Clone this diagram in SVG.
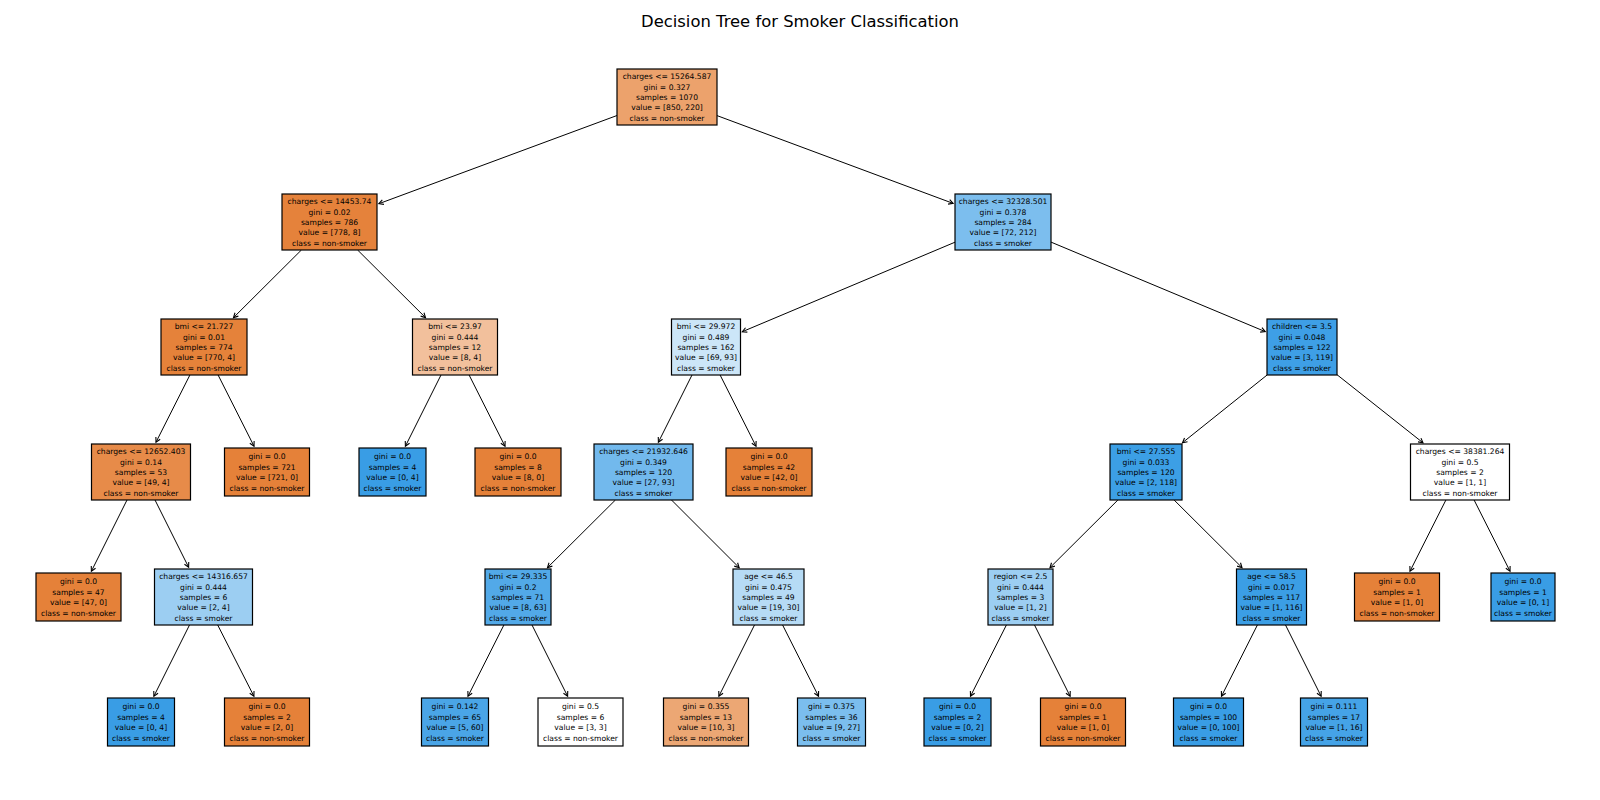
<svg xmlns="http://www.w3.org/2000/svg" width="1600" height="800" viewBox="0 0 1600 800">
<style>
.box{stroke:#000;stroke-width:1.2}
.t{font-family:"DejaVu Sans",sans-serif;font-size:7.6px;text-anchor:middle;dominant-baseline:central;fill:#000}
.title{font-family:"DejaVu Sans",sans-serif;font-size:16.4px;text-anchor:middle;dominant-baseline:central;fill:#000}
.e{stroke:#000;stroke-width:1;fill:none;marker-end:url(#ah)}
</style>
<defs>
<marker id="ah" markerUnits="userSpaceOnUse" viewBox="-6 -4 8 8" refX="0" refY="0" markerWidth="8" markerHeight="8" orient="auto" overflow="visible">
<path d="M-4.5,-2.4 L0,0 L-4.5,2.4" fill="none" stroke="#000" stroke-width="1.1"/>
</marker>
</defs>
<rect width="1600" height="800" fill="#fff"/>
<text class="title" x="800" y="21.5">Decision Tree for Smoker Classification</text>
<g id="connectors">
<line class="e" x1="617" y1="115.5" x2="378.9" y2="203.7"/>
<line class="e" x1="717" y1="115.6" x2="953.1" y2="203.4"/>
<line class="e" x1="301.4" y1="250" x2="233.5" y2="317.6"/>
<line class="e" x1="357.6" y1="250" x2="425.5" y2="317.6"/>
<line class="e" x1="955" y1="242.2" x2="742.3" y2="331.7"/>
<line class="e" x1="1051" y1="242.1" x2="1265.2" y2="331.6"/>
<line class="e" x1="189.9" y1="375" x2="156" y2="442.2"/>
<line class="e" x1="218.1" y1="375" x2="254" y2="446.2"/>
<line class="e" x1="441" y1="375" x2="405.4" y2="446.2"/>
<line class="e" x1="469.1" y1="375" x2="505" y2="446.2"/>
<line class="e" x1="692" y1="375" x2="658.4" y2="442.2"/>
<line class="e" x1="720.1" y1="375" x2="756" y2="446.2"/>
<line class="e" x1="1267.1" y1="375" x2="1182.5" y2="442.7"/>
<line class="e" x1="1337" y1="374.7" x2="1423" y2="442.8"/>
<line class="e" x1="127" y1="500" x2="91.4" y2="571.2"/>
<line class="e" x1="155" y1="500" x2="188.6" y2="567.2"/>
<line class="e" x1="189.5" y1="625" x2="153.9" y2="696.2"/>
<line class="e" x1="217.7" y1="625" x2="253.9" y2="696.2"/>
<line class="e" x1="615.4" y1="500" x2="547.5" y2="567.6"/>
<line class="e" x1="671.5" y1="500" x2="739.1" y2="567.6"/>
<line class="e" x1="503.9" y1="625" x2="468" y2="696.2"/>
<line class="e" x1="532" y1="625" x2="567.6" y2="696.2"/>
<line class="e" x1="754.5" y1="625" x2="718.9" y2="696.2"/>
<line class="e" x1="782.6" y1="625" x2="818.5" y2="696.2"/>
<line class="e" x1="1117.9" y1="500" x2="1050" y2="567.6"/>
<line class="e" x1="1174.1" y1="500" x2="1242" y2="567.6"/>
<line class="e" x1="1445.9" y1="500" x2="1410" y2="571.2"/>
<line class="e" x1="1474.1" y1="500" x2="1510" y2="571.2"/>
<line class="e" x1="1006.4" y1="625" x2="970.5" y2="696.2"/>
<line class="e" x1="1034.5" y1="625" x2="1070.1" y2="696.2"/>
<line class="e" x1="1257.4" y1="625" x2="1221.5" y2="696.2"/>
<line class="e" x1="1285.5" y1="625" x2="1321.1" y2="696.2"/>
</g>
<g id="n0"><rect class="box" x="617" y="69" width="100" height="56" fill="#eca26c"/><text class="t" x="667" y="76.2"><tspan x="667">charges &lt;= 15264.587</tspan><tspan x="667" dy="10.4">gini = 0.327</tspan><tspan x="667" dy="10.4">samples = 1070</tspan><tspan x="667" dy="10.4">value = [850, 220]</tspan><tspan x="667" dy="10.4">class = non-smoker</tspan></text></g>
<g id="n1"><rect class="box" x="282" y="194" width="95" height="56" fill="#e5823b"/><text class="t" x="329.5" y="201.2"><tspan x="329.5">charges &lt;= 14453.74</tspan><tspan x="329.5" dy="10.4">gini = 0.02</tspan><tspan x="329.5" dy="10.4">samples = 786</tspan><tspan x="329.5" dy="10.4">value = [778, 8]</tspan><tspan x="329.5" dy="10.4">class = non-smoker</tspan></text></g>
<g id="n2"><rect class="box" x="955" y="194" width="96" height="56" fill="#7cbeee"/><text class="t" x="1003" y="201.2"><tspan x="1003">charges &lt;= 32328.501</tspan><tspan x="1003" dy="10.4">gini = 0.378</tspan><tspan x="1003" dy="10.4">samples = 284</tspan><tspan x="1003" dy="10.4">value = [72, 212]</tspan><tspan x="1003" dy="10.4">class = smoker</tspan></text></g>
<g id="n3"><rect class="box" x="161" y="319" width="86" height="56" fill="#e5823a"/><text class="t" x="204" y="326.2"><tspan x="204">bmi &lt;= 21.727</tspan><tspan x="204" dy="10.4">gini = 0.01</tspan><tspan x="204" dy="10.4">samples = 774</tspan><tspan x="204" dy="10.4">value = [770, 4]</tspan><tspan x="204" dy="10.4">class = non-smoker</tspan></text></g>
<g id="n4"><rect class="box" x="412.5" y="319" width="85" height="56" fill="#f2c09c"/><text class="t" x="455" y="326.2"><tspan x="455">bmi &lt;= 23.97</tspan><tspan x="455" dy="10.4">gini = 0.444</tspan><tspan x="455" dy="10.4">samples = 12</tspan><tspan x="455" dy="10.4">value = [8, 4]</tspan><tspan x="455" dy="10.4">class = non-smoker</tspan></text></g>
<g id="n5"><rect class="box" x="671.5" y="319" width="69" height="56" fill="#cce6f8"/><text class="t" x="706" y="326.2"><tspan x="706">bmi &lt;= 29.972</tspan><tspan x="706" dy="10.4">gini = 0.489</tspan><tspan x="706" dy="10.4">samples = 162</tspan><tspan x="706" dy="10.4">value = [69, 93]</tspan><tspan x="706" dy="10.4">class = smoker</tspan></text></g>
<g id="n6"><rect class="box" x="1267" y="319" width="70" height="56" fill="#3e9fe6"/><text class="t" x="1302" y="326.2"><tspan x="1302">children &lt;= 3.5</tspan><tspan x="1302" dy="10.4">gini = 0.048</tspan><tspan x="1302" dy="10.4">samples = 122</tspan><tspan x="1302" dy="10.4">value = [3, 119]</tspan><tspan x="1302" dy="10.4">class = smoker</tspan></text></g>
<g id="n7"><rect class="box" x="91.5" y="444" width="99" height="56" fill="#e78b49"/><text class="t" x="141" y="451.2"><tspan x="141">charges &lt;= 12652.403</tspan><tspan x="141" dy="10.4">gini = 0.14</tspan><tspan x="141" dy="10.4">samples = 53</tspan><tspan x="141" dy="10.4">value = [49, 4]</tspan><tspan x="141" dy="10.4">class = non-smoker</tspan></text></g>
<g id="n8"><rect class="box" x="224.5" y="448" width="85" height="48" fill="#e58139"/><text class="t" x="267" y="456.4"><tspan x="267">gini = 0.0</tspan><tspan x="267" dy="10.4">samples = 721</tspan><tspan x="267" dy="10.4">value = [721, 0]</tspan><tspan x="267" dy="10.4">class = non-smoker</tspan></text></g>
<g id="n9"><rect class="box" x="359" y="448" width="67" height="48" fill="#399de5"/><text class="t" x="392.5" y="456.4"><tspan x="392.5">gini = 0.0</tspan><tspan x="392.5" dy="10.4">samples = 4</tspan><tspan x="392.5" dy="10.4">value = [0, 4]</tspan><tspan x="392.5" dy="10.4">class = smoker</tspan></text></g>
<g id="n10"><rect class="box" x="475" y="448" width="86" height="48" fill="#e58139"/><text class="t" x="518" y="456.4"><tspan x="518">gini = 0.0</tspan><tspan x="518" dy="10.4">samples = 8</tspan><tspan x="518" dy="10.4">value = [8, 0]</tspan><tspan x="518" dy="10.4">class = non-smoker</tspan></text></g>
<g id="n11"><rect class="box" x="594" y="444" width="99" height="56" fill="#72b9ed"/><text class="t" x="643.5" y="451.2"><tspan x="643.5">charges &lt;= 21932.646</tspan><tspan x="643.5" dy="10.4">gini = 0.349</tspan><tspan x="643.5" dy="10.4">samples = 120</tspan><tspan x="643.5" dy="10.4">value = [27, 93]</tspan><tspan x="643.5" dy="10.4">class = smoker</tspan></text></g>
<g id="n12"><rect class="box" x="726" y="448" width="86" height="48" fill="#e58139"/><text class="t" x="769" y="456.4"><tspan x="769">gini = 0.0</tspan><tspan x="769" dy="10.4">samples = 42</tspan><tspan x="769" dy="10.4">value = [42, 0]</tspan><tspan x="769" dy="10.4">class = non-smoker</tspan></text></g>
<g id="n13"><rect class="box" x="1110" y="444" width="72" height="56" fill="#3c9fe5"/><text class="t" x="1146" y="451.2"><tspan x="1146">bmi &lt;= 27.555</tspan><tspan x="1146" dy="10.4">gini = 0.033</tspan><tspan x="1146" dy="10.4">samples = 120</tspan><tspan x="1146" dy="10.4">value = [2, 118]</tspan><tspan x="1146" dy="10.4">class = smoker</tspan></text></g>
<g id="n14"><rect class="box" x="1410.5" y="444" width="99" height="56" fill="#ffffff"/><text class="t" x="1460" y="451.2"><tspan x="1460">charges &lt;= 38381.264</tspan><tspan x="1460" dy="10.4">gini = 0.5</tspan><tspan x="1460" dy="10.4">samples = 2</tspan><tspan x="1460" dy="10.4">value = [1, 1]</tspan><tspan x="1460" dy="10.4">class = non-smoker</tspan></text></g>
<g id="n15"><rect class="box" x="36" y="573" width="85" height="48" fill="#e58139"/><text class="t" x="78.5" y="581.4"><tspan x="78.5">gini = 0.0</tspan><tspan x="78.5" dy="10.4">samples = 47</tspan><tspan x="78.5" dy="10.4">value = [47, 0]</tspan><tspan x="78.5" dy="10.4">class = non-smoker</tspan></text></g>
<g id="n16"><rect class="box" x="154.5" y="569" width="98" height="56" fill="#9ccef2"/><text class="t" x="203.5" y="576.2"><tspan x="203.5">charges &lt;= 14316.657</tspan><tspan x="203.5" dy="10.4">gini = 0.444</tspan><tspan x="203.5" dy="10.4">samples = 6</tspan><tspan x="203.5" dy="10.4">value = [2, 4]</tspan><tspan x="203.5" dy="10.4">class = smoker</tspan></text></g>
<g id="n17"><rect class="box" x="485" y="569" width="66" height="56" fill="#52a9e8"/><text class="t" x="518" y="576.2"><tspan x="518">bmi &lt;= 29.335</tspan><tspan x="518" dy="10.4">gini = 0.2</tspan><tspan x="518" dy="10.4">samples = 71</tspan><tspan x="518" dy="10.4">value = [8, 63]</tspan><tspan x="518" dy="10.4">class = smoker</tspan></text></g>
<g id="n18"><rect class="box" x="733" y="569" width="71" height="56" fill="#b6dbf5"/><text class="t" x="768.5" y="576.2"><tspan x="768.5">age &lt;= 46.5</tspan><tspan x="768.5" dy="10.4">gini = 0.475</tspan><tspan x="768.5" dy="10.4">samples = 49</tspan><tspan x="768.5" dy="10.4">value = [19, 30]</tspan><tspan x="768.5" dy="10.4">class = smoker</tspan></text></g>
<g id="n19"><rect class="box" x="988" y="569" width="65" height="56" fill="#9ccef2"/><text class="t" x="1020.5" y="576.2"><tspan x="1020.5">region &lt;= 2.5</tspan><tspan x="1020.5" dy="10.4">gini = 0.444</tspan><tspan x="1020.5" dy="10.4">samples = 3</tspan><tspan x="1020.5" dy="10.4">value = [1, 2]</tspan><tspan x="1020.5" dy="10.4">class = smoker</tspan></text></g>
<g id="n20"><rect class="box" x="1236.5" y="569" width="70" height="56" fill="#3b9ee5"/><text class="t" x="1271.5" y="576.2"><tspan x="1271.5">age &lt;= 58.5</tspan><tspan x="1271.5" dy="10.4">gini = 0.017</tspan><tspan x="1271.5" dy="10.4">samples = 117</tspan><tspan x="1271.5" dy="10.4">value = [1, 116]</tspan><tspan x="1271.5" dy="10.4">class = smoker</tspan></text></g>
<g id="n21"><rect class="box" x="1354.5" y="573" width="85" height="48" fill="#e58139"/><text class="t" x="1397" y="581.4"><tspan x="1397">gini = 0.0</tspan><tspan x="1397" dy="10.4">samples = 1</tspan><tspan x="1397" dy="10.4">value = [1, 0]</tspan><tspan x="1397" dy="10.4">class = non-smoker</tspan></text></g>
<g id="n22"><rect class="box" x="1491" y="573" width="64" height="48" fill="#399de5"/><text class="t" x="1523" y="581.4"><tspan x="1523">gini = 0.0</tspan><tspan x="1523" dy="10.4">samples = 1</tspan><tspan x="1523" dy="10.4">value = [0, 1]</tspan><tspan x="1523" dy="10.4">class = smoker</tspan></text></g>
<g id="n23"><rect class="box" x="107.5" y="698" width="67" height="48" fill="#399de5"/><text class="t" x="141" y="706.4"><tspan x="141">gini = 0.0</tspan><tspan x="141" dy="10.4">samples = 4</tspan><tspan x="141" dy="10.4">value = [0, 4]</tspan><tspan x="141" dy="10.4">class = smoker</tspan></text></g>
<g id="n24"><rect class="box" x="224.5" y="698" width="85" height="48" fill="#e58139"/><text class="t" x="267" y="706.4"><tspan x="267">gini = 0.0</tspan><tspan x="267" dy="10.4">samples = 2</tspan><tspan x="267" dy="10.4">value = [2, 0]</tspan><tspan x="267" dy="10.4">class = non-smoker</tspan></text></g>
<g id="n25"><rect class="box" x="421.5" y="698" width="67" height="48" fill="#4aa5e7"/><text class="t" x="455" y="706.4"><tspan x="455">gini = 0.142</tspan><tspan x="455" dy="10.4">samples = 65</tspan><tspan x="455" dy="10.4">value = [5, 60]</tspan><tspan x="455" dy="10.4">class = smoker</tspan></text></g>
<g id="n26"><rect class="box" x="538" y="698" width="85" height="48" fill="#ffffff"/><text class="t" x="580.5" y="706.4"><tspan x="580.5">gini = 0.5</tspan><tspan x="580.5" dy="10.4">samples = 6</tspan><tspan x="580.5" dy="10.4">value = [3, 3]</tspan><tspan x="580.5" dy="10.4">class = non-smoker</tspan></text></g>
<g id="n27"><rect class="box" x="663.5" y="698" width="85" height="48" fill="#eca774"/><text class="t" x="706" y="706.4"><tspan x="706">gini = 0.355</tspan><tspan x="706" dy="10.4">samples = 13</tspan><tspan x="706" dy="10.4">value = [10, 3]</tspan><tspan x="706" dy="10.4">class = non-smoker</tspan></text></g>
<g id="n28"><rect class="box" x="797.5" y="698" width="68" height="48" fill="#7bbeee"/><text class="t" x="831.5" y="706.4"><tspan x="831.5">gini = 0.375</tspan><tspan x="831.5" dy="10.4">samples = 36</tspan><tspan x="831.5" dy="10.4">value = [9, 27]</tspan><tspan x="831.5" dy="10.4">class = smoker</tspan></text></g>
<g id="n29"><rect class="box" x="924" y="698" width="67" height="48" fill="#399de5"/><text class="t" x="957.5" y="706.4"><tspan x="957.5">gini = 0.0</tspan><tspan x="957.5" dy="10.4">samples = 2</tspan><tspan x="957.5" dy="10.4">value = [0, 2]</tspan><tspan x="957.5" dy="10.4">class = smoker</tspan></text></g>
<g id="n30"><rect class="box" x="1040.5" y="698" width="85" height="48" fill="#e58139"/><text class="t" x="1083" y="706.4"><tspan x="1083">gini = 0.0</tspan><tspan x="1083" dy="10.4">samples = 1</tspan><tspan x="1083" dy="10.4">value = [1, 0]</tspan><tspan x="1083" dy="10.4">class = non-smoker</tspan></text></g>
<g id="n31"><rect class="box" x="1173.5" y="698" width="70" height="48" fill="#399de5"/><text class="t" x="1208.5" y="706.4"><tspan x="1208.5">gini = 0.0</tspan><tspan x="1208.5" dy="10.4">samples = 100</tspan><tspan x="1208.5" dy="10.4">value = [0, 100]</tspan><tspan x="1208.5" dy="10.4">class = smoker</tspan></text></g>
<g id="n32"><rect class="box" x="1300.5" y="698" width="67" height="48" fill="#45a3e7"/><text class="t" x="1334" y="706.4"><tspan x="1334">gini = 0.111</tspan><tspan x="1334" dy="10.4">samples = 17</tspan><tspan x="1334" dy="10.4">value = [1, 16]</tspan><tspan x="1334" dy="10.4">class = smoker</tspan></text></g>
</svg>
